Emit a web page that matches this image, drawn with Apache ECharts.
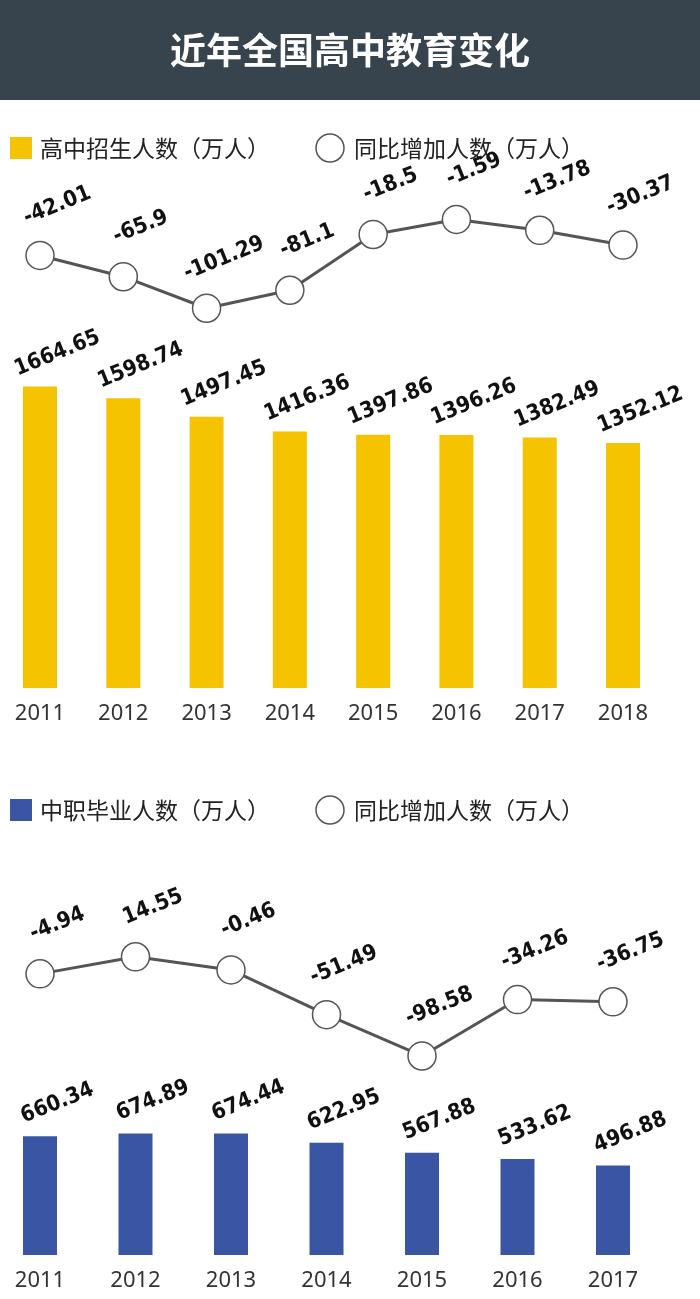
<!DOCTYPE html>
<html>
<head>
<meta charset="utf-8">
<script src="https://cdn.jsdelivr.net/npm/echarts@6/dist/echarts.min.js"></script>
<style>
  html, body { margin: 0; padding: 0; background: #fff; }
  #main { width: 700px; height: 1299px; }
</style>
</head>
<body>
<div id="main"></div>
<script>
// 高中招生
let years1 = ['2011', '2012', '2013', '2014', '2015', '2016', '2017', '2018'];
let enroll = [1664.65, 1598.74, 1497.45, 1416.36, 1397.86, 1396.26, 1382.49, 1352.12];
let enrollChange = [-42.01, -65.9, -101.29, -81.1, -18.5, -1.59, -13.78, -30.37];
// 中职毕业
let years2 = ['2011', '2012', '2013', '2014', '2015', '2016', '2017'];
let grad = [660.34, 674.89, 674.44, 622.95, 567.88, 533.62, 496.88];
let gradChange = [-4.94, 14.55, -0.46, -51.49, -98.58, -34.26, -36.75];

let yellow = '#F5C300';
let blue = '#3A55A4';
let labelFont = 'DejaVu Sans Condensed';

function numLabel(dist) {
    return {
        show: true,
        position: 'top',
        distance: dist,
        rotate: 22,
        offset: [24, -2],
        color: '#111',
        fontSize: 22,
        fontWeight: 'bold',
        fontFamily: labelFont
    };
}

function catAxis(idx, data, show) {
    return {
        type: 'category', gridIndex: idx, data: data, boundaryGap: false,
        axisLine: {show: false}, axisTick: {show: false}, splitLine: {show: false},
        axisLabel: {show: show, color: '#333', fontSize: 22, margin: 15, fontFamily: 'Noto Sans'}
    };
}

function valAxis(idx, min, max) {
    return {type: 'value', gridIndex: idx, min: min, max: max, show: false, splitLine: {show: false}};
}

function lineSeries(idx, data) {
    return {
        type: 'line', xAxisIndex: idx, yAxisIndex: idx, data: data,
        symbol: 'circle', symbolSize: 28,
        lineStyle: {color: '#555', width: 3},
        itemStyle: {color: '#fff', borderColor: '#555', borderWidth: 1.5},
        label: numLabel(14), z: 3
    };
}

function barSeries(idx, data, color) {
    return {
        type: 'bar', xAxisIndex: idx, yAxisIndex: idx, data: data,
        barWidth: 34, itemStyle: {color: color},
        label: numLabel(12)
    };
}

function legendItems(y, color, text) {
    return [
        {type: 'rect', shape: {x: 10, y: y - 11, width: 22, height: 22}, style: {fill: color}},
        {type: 'text', x: 40, y: y, style: {text: text, fill: '#222', font: '23px "Noto Sans CJK SC"', verticalAlign: 'middle'}},
        {type: 'circle', shape: {cx: 330, cy: y, r: 14}, style: {fill: '#fff', stroke: '#555', lineWidth: 1.5}},
        {type: 'text', x: 354, y: y, style: {text: '同比增加人数（万人）', fill: '#222', font: '23px "Noto Sans CJK SC"', verticalAlign: 'middle'}}
    ];
}

let chart = echarts.init(document.getElementById('main'));
chart.setOption({
    backgroundColor: '#fff',
    animation: false,
    graphic: [
        {type: 'rect', shape: {x: 0, y: 0, width: 700, height: 100}, style: {fill: '#37444D'}},
        {type: 'text', x: 350, y: 50, style: {text: '近年全国高中教育变化', fill: '#fff', font: 'bold 36px "Noto Sans CJK SC"', align: 'center', verticalAlign: 'middle'}}
    ].concat(legendItems(148, yellow, '高中招生人数（万人）'), legendItems(810, blue, '中职毕业人数（万人）')),
    grid: [
        {left: 40, width: 583, top: 218, height: 98},
        {left: 40, width: 583, top: 380, height: 308},
        {left: 40, width: 573, top: 952, height: 114},
        {left: 40, width: 573, top: 1129, height: 126}
    ],
    xAxis: [catAxis(0, years1, false), catAxis(1, years1, true), catAxis(2, years2, false), catAxis(3, years2, true)],
    yAxis: [valAxis(0, -110, 0), valAxis(1, 0, 1700), valAxis(2, -110, 20), valAxis(3, 0, 700)],
    series: [lineSeries(0, enrollChange), barSeries(1, enroll, yellow), lineSeries(2, gradChange), barSeries(3, grad, blue)]
});
</script>
</body>
</html>
